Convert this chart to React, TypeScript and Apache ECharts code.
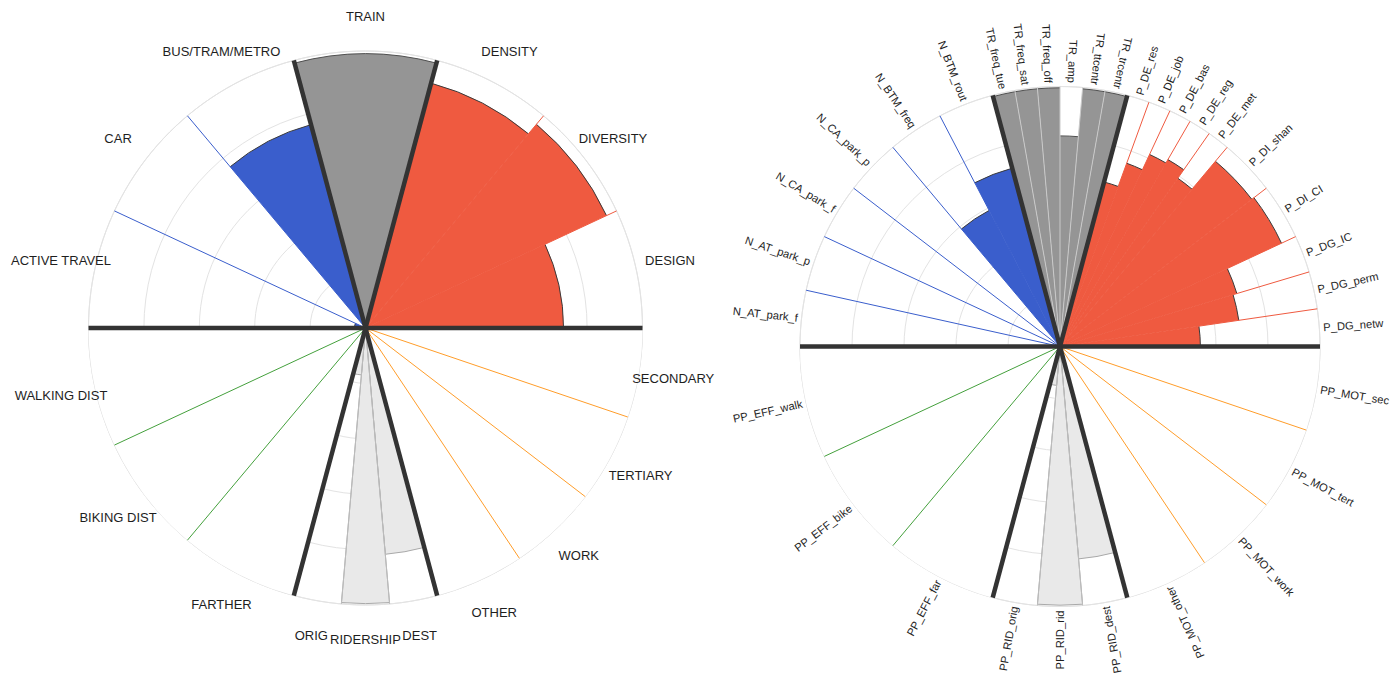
import React, { useEffect, useRef } from 'react';
import * as echarts from 'echarts';

// ---- group layout (clockwise from the left horizontal) ----
const groupNames = ['network', 'train', 'place', 'motive', 'ridership', 'efficiency'];
const groupSpans = [75, 30, 75, 75, 30, 75];
const groupStart = 270;

// ---- left chart ----
const leftCategories = [
  'ACTIVE TRAVEL', 'CAR', 'BUS/TRAM/METRO',
  'TRAIN',
  'DENSITY', 'DIVERSITY', 'DESIGN',
  'SECONDARY', 'TERTIARY', 'WORK', 'OTHER',
  'DEST', 'RIDERSHIP', 'ORIG',
  'FARTHER', 'BIKING DIST', 'WALKING DIST',
];
// items per sub-group, for each group
const leftSubgroupSizes = [[1, 1, 1], [1], [1, 1, 1], [1, 1, 1, 1], [1, 1, 1], [1, 1, 1]];
const leftValues = [
  0.04, 0, 0.76,
  0.99,
  0.915, 0.96, 0.715,
  1, 1, 1, 1,
  0.82, 0.995, 0.17,
  1, 1, 1,
];

// ---- right chart ----
const rightCategories = [
  'N_AT_park_f', 'N_AT_park_p', 'N_CA_park_f', 'N_CA_park_p', 'N_BTM_freq', 'N_BTM_rout',
  'TR_freq_tue', 'TR_freq_sat', 'TR_freq_off', 'TR_amp', 'TR_ttcentr', 'TR_trcentr',
  'P_DE_res', 'P_DE_job', 'P_DE_bas', 'P_DE_reg', 'P_DE_met', 'P_DI_shan', 'P_DI_CI', 'P_DG_IC', 'P_DG_perm', 'P_DG_netw',
  'PP_MOT_sec', 'PP_MOT_tert', 'PP_MOT_work', 'PP_MOT_other',
  'PP_RID_dest', 'PP_RID_rid', 'PP_RID_orig',
  'PP_EFF_far', 'PP_EFF_bike', 'PP_EFF_walk',
];
const rightSubgroupSizes = [[2, 2, 2], [6], [5, 2, 3], [1, 1, 1, 1], [1, 1, 1], [1, 1, 1]];
const rightValues = [
  0, 0, 0, 0, 0.59, 0.71,
  0.995, 0.995, 0.995, 0.81, 0.995, 0.995,
  0.655, 0.75, 0.815, 0.83, 0.79, 0.93, 0.94, 0.71, 0.695, 0.54,
  1, 1, 1, 1,
  0.82, 0.995, 0.15,
  1, 1, 1,
];

// ---- styles ----
const barFill = ['#3a5ecc', '#959595', '#ef5a40', '#ffffff', '#e9e9e9', '#ffffff'];
const sepColor = ['#3a5ecc', '#c9c9c9', '#ef5a40', '#ff9d2a', '#bcbcbc', '#44a03c'];
const edgeColor = ['#3a3a3a', '#505050', '#3a3a3a', '', '#a9a9a9', ''];
const FONT = 'Liberation Sans, Arial, Helvetica, sans-serif';

function norm(d: number) {
  return ((d % 360) + 360) % 360;
}

function layout(names: string[], subSizes: number[][], values: number[]) {
  const items: any[] = [];
  const seps: number[][] = [];
  const bounds: number[][] = [];
  let start = groupStart;
  let k = 0;
  subSizes.forEach((subs, g) => {
    const subSpan = groupSpans[g] / subs.length;
    bounds.push([1, norm(start)]);
    const total = subs.reduce((a, b) => a + b, 0);
    let count = 0;
    subs.forEach((n, s) => {
      const w = subSpan / n;
      for (let i = 0; i < n; i++) {
        const d0 = start + s * subSpan + i * w;
        const d1 = d0 + w;
        items.push({ name: names[k], value: [values[k], norm((d0 + d1) / 2), norm(d0), norm(d1), g] });
        count++;
        if (count < total) seps.push([1, norm(d1), g]);
        k++;
      }
    });
    start += groupSpans[g];
  });
  return { items, seps, bounds };
}

function makeSeries(polarIndex: number, names: string[], subSizes: number[][], values: number[], radial: boolean) {
  const { items, seps, bounds } = layout(names, subSizes, values);
  const enc = { radius: 0, angle: 1 };
  const ang = (api: any, cx: number, cy: number, d: number) => {
    const p = api.coord([1, d]);
    return Math.atan2(p[1] - cy, p[0] - cx);
  };
  const bars = {
    type: 'custom',
    coordinateSystem: 'polar',
    polarIndex,
    encode: enc,
    z: 2,
    silent: true,
    data: items,
    renderItem: (params: any, api: any) => {
      const cs = params.coordSys;
      const cx = cs.cx, cy = cs.cy;
      const v = api.value(0);
      if (!v) return { type: 'group', children: [] };
      const g = api.value(4);
      const pv = api.coord([v, api.value(2)]);
      const rv = Math.hypot(pv[0] - cx, pv[1] - cy);
      let a0 = ang(api, cx, cy, api.value(2));
      let a1 = ang(api, cx, cy, api.value(3));
      while (a1 <= a0) a1 += Math.PI * 2;
      const children: any[] = [
        {
          type: 'sector',
          shape: { cx, cy, r0: 0, r: rv, startAngle: a0, endAngle: a1, clockwise: true },
          style: {
            fill: barFill[g],
            stroke: g === 4 ? edgeColor[g] : null,
            lineWidth: g === 4 ? 1 : 0,
          },
        },
      ];
      if (edgeColor[g] && g !== 4) {
        children.push({
          type: 'arc',
          shape: { cx, cy, r: rv, startAngle: a0, endAngle: a1, clockwise: true },
          style: { stroke: edgeColor[g], lineWidth: 1, fill: null },
        });
      }
      return { type: 'group', children };
    },
  };
  const sepSeries = {
    type: 'custom',
    coordinateSystem: 'polar',
    polarIndex,
    encode: enc,
    z: 3,
    silent: true,
    data: seps,
    renderItem: (params: any, api: any) => {
      const cs = params.coordSys;
      const p = api.coord([1, api.value(1)]);
      return {
        type: 'line',
        shape: { x1: cs.cx, y1: cs.cy, x2: p[0], y2: p[1] },
        style: { stroke: sepColor[api.value(2)], lineWidth: 1 },
      };
    },
  };
  const boundSeries = {
    type: 'custom',
    coordinateSystem: 'polar',
    polarIndex,
    encode: enc,
    z: 4,
    silent: true,
    data: bounds,
    renderItem: (params: any, api: any) => {
      const cs = params.coordSys;
      const p = api.coord([1, api.value(1)]);
      return {
        type: 'line',
        shape: { x1: cs.cx, y1: cs.cy, x2: p[0], y2: p[1] },
        style: { stroke: '#333333', lineWidth: 4.5, lineCap: 'butt' },
      };
    },
  };
  const labelSeries = {
    type: 'custom',
    coordinateSystem: 'polar',
    polarIndex,
    encode: enc,
    z: 5,
    silent: true,
    data: items,
    renderItem: (params: any, api: any) => {
      const dc = api.value(1);
      const name = names[params.dataIndex];
      if (!radial) {
        const p = api.coord([1.126, dc]);
        return {
          type: 'text',
          x: p[0],
          y: p[1],
          style: {
            text: name, fill: '#1e1e1e', fontSize: 13, fontFamily: FONT,
            align: 'center', verticalAlign: 'middle',
          },
        };
      }
      const p = api.coord([1.015, dc]);
      const m = 90 - dc; // math angle, degrees, ccw from east
      const outward = dc > 15 && dc < 150;
      const rot = ((outward ? m : m + 180) * Math.PI) / 180;
      return {
        type: 'text',
        x: p[0],
        y: p[1],
        rotation: rot,
        style: {
          text: name, fill: '#1e1e1e', fontSize: 11.2, fontFamily: FONT,
          align: outward ? 'left' : 'right', verticalAlign: 'middle',
        },
      };
    },
  };
  return [bars, sepSeries, boundSeries, labelSeries];
}

function axes(polarIndex: number) {
  return {
    angle: {
      type: 'value', polarIndex, min: 0, max: 360, startAngle: 90, clockwise: true,
      axisLine: { show: true, lineStyle: { color: '#e3e3e3', width: 1 } },
      axisTick: { show: false }, axisLabel: { show: false }, splitLine: { show: false },
    },
    radius: {
      type: 'value', polarIndex, min: 0, max: 1, interval: 0.2,
      axisLine: { show: false }, axisTick: { show: false }, axisLabel: { show: false },
      splitLine: { show: true, lineStyle: { color: '#e3e3e3', width: 1 } },
    },
  };
}

export default function App() {
  const ref = useRef<HTMLDivElement>(null);
  useEffect(() => {
    if (!ref.current) return;
    const chart = echarts.init(ref.current, undefined, { renderer: 'svg' });
    const a0 = axes(0);
    const a1 = axes(1);
    chart.setOption({
      animation: false,
      backgroundColor: '#ffffff',
      polar: [
        { center: [365.5, 328], radius: 277 },
        { center: [1060, 346.5], radius: 260 },
      ],
      angleAxis: [a0.angle, a1.angle],
      radiusAxis: [a0.radius, a1.radius],
      series: [
        ...makeSeries(0, leftCategories, leftSubgroupSizes, leftValues, false),
        ...makeSeries(1, rightCategories, rightSubgroupSizes, rightValues, true),
      ],
    });
    return () => chart.dispose();
  }, []);
  return (
    <div
      ref={ref}
      style={{ position: 'absolute', left: 0, top: 0, width: 1400, height: 675 }}
    />
  );
}
